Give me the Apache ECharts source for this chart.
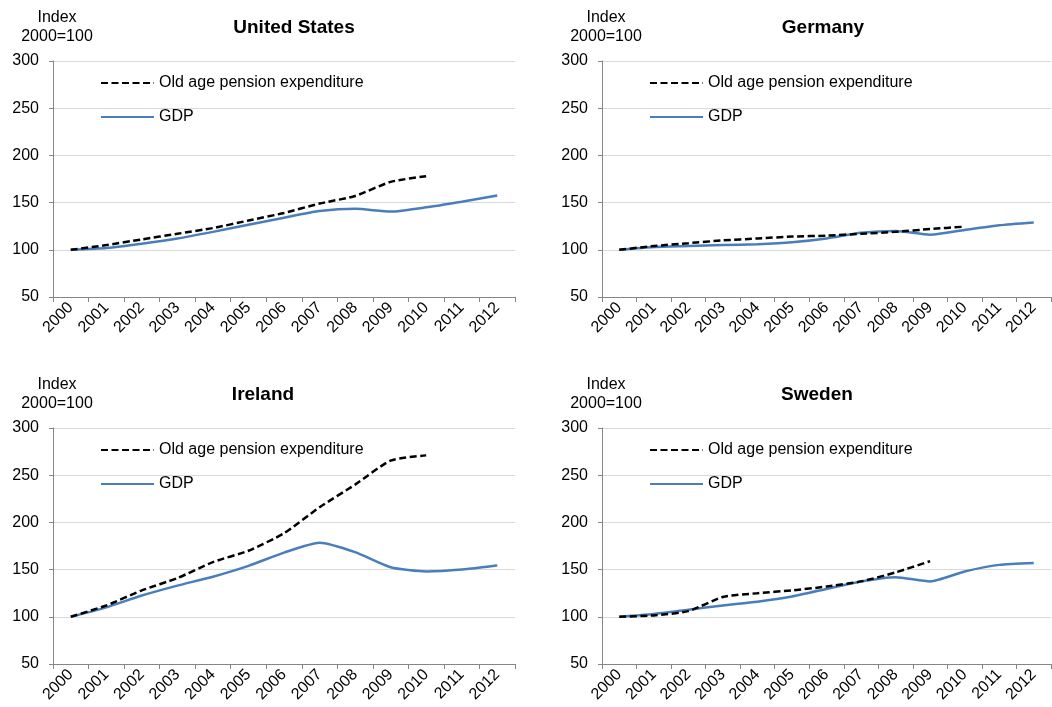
<!DOCTYPE html>
<html>
<head>
<meta charset="utf-8">
<script src="https://cdn.jsdelivr.net/npm/echarts@6/dist/echarts.min.js"></script>
<style>
  html, body { margin: 0; padding: 0; background: #fff; }
  #chart { width: 1052px; height: 707px; }
</style>
</head>
<body>
<div id="chart"></div>
<script>
var years = ['2000', '2001', '2002', '2003', '2004', '2005', '2006', '2007', '2008', '2009', '2010', '2011', '2012'];

// index values, 2000 = 100
var usPension = [100, 105, 111, 117, 123, 131, 139, 149, 157, 172, 178];
var usGdp = [100, 102, 106.5, 112, 119, 126.5, 134, 141, 143.5, 140.5, 145, 151, 157.5];

var dePension = [100, 104, 107, 110, 112, 114, 115, 117, 119, 122, 124.5];
var deGdp = [100, 103, 104, 105, 106, 108, 112, 118, 120, 116, 121, 126, 129];

var iePension = [100, 112, 128, 141, 158, 170, 188.5, 216, 240, 265.5, 271];
var ieGdp = [100, 110, 122.5, 133, 142.5, 154, 168, 178.5, 168.5, 152.5, 148, 150, 154.5];

var sePension = [100, 101.5, 106, 121, 125, 128, 132, 137.5, 147, 159];
var seGdp = [100, 103, 107.5, 112, 116, 121.5, 129.5, 137.5, 142, 137.5, 148, 155, 157];

var yTicks = { min: 50, max: 300, interval: 50 };

var FONT = 'Liberation Sans, Arial, sans-serif';
var PENSION = 'Old age pension expenditure';
var GDP = 'GDP';

// panel boxes: [left, top, width, height], tx = title centre
var panels = [
  { name: 'United States', box: [53, 61, 462, 236], tx: 294, pension: usPension, gdp: usGdp },
  { name: 'Germany', box: [602, 61, 449, 236], tx: 823, pension: dePension, gdp: deGdp },
  { name: 'Ireland', box: [53, 428, 462, 236], tx: 263, pension: iePension, gdp: ieGdp },
  { name: 'Sweden', box: [602, 428, 449, 236], tx: 817, pension: sePension, gdp: seGdp }
];

var grids = [], xAxes = [], yAxes = [], series = [], legends = [], graphics = [];

panels.forEach(function (p, i) {
  var b = p.box;
  grids.push({ left: b[0], top: b[1], width: b[2], height: b[3] });

  xAxes.push({
    type: 'category',
    gridIndex: i,
    data: years,
    boundaryGap: true,
    axisLine: { lineStyle: { color: '#868686', width: 1 } },
    axisTick: { show: true, length: 5, lineStyle: { color: '#868686' } },
    axisLabel: { interval: 0, rotate: 45, color: '#000', fontSize: 16, fontFamily: FONT, margin: 8 },
    splitLine: { show: false }
  });

  yAxes.push({
    type: 'value',
    gridIndex: i,
    min: yTicks.min,
    max: yTicks.max,
    interval: yTicks.interval,
    axisLine: { show: true, lineStyle: { color: '#868686', width: 1 } },
    axisTick: { show: true, length: 4, lineStyle: { color: '#868686' } },
    axisLabel: { color: '#000', fontSize: 16, fontFamily: FONT, margin: 14 },
    splitLine: { show: true, lineStyle: { color: '#d9d9d9', width: 1 } }
  });

  series.push({
    name: PENSION,
    type: 'line',
    xAxisIndex: i,
    yAxisIndex: i,
    data: p.pension,
    symbol: 'none',
    smooth: 0.2,
    lineStyle: { color: '#000', width: 2.5, type: [7, 3.5] },
    itemStyle: { color: '#000' },
    z: 3
  });
  series.push({
    name: GDP,
    type: 'line',
    xAxisIndex: i,
    yAxisIndex: i,
    data: p.gdp,
    symbol: 'none',
    smooth: 0.2,
    lineStyle: { color: '#4a7ebb', width: 2.5 },
    itemStyle: { color: '#4a7ebb' },
    z: 2
  });

  legends.push({
    orient: 'vertical',
    left: b[0] + 42,
    top: b[1] + 9,
    itemWidth: 53,
    itemHeight: 14,
    itemGap: 18,
    selectedMode: false,
    itemStyle: { opacity: 0 },
    data: [PENSION, GDP],
    textStyle: { color: '#000', fontSize: 16, fontFamily: FONT }
  });

  graphics.push({
    type: 'text',
    x: p.tx,
    y: b[1] - 33,
    style: { text: p.name, font: 'bold 19px ' + FONT, fill: '#000', textAlign: 'center', align: 'center', textVerticalAlign: 'middle', verticalAlign: 'middle' }
  });
  graphics.push({
    type: 'text',
    x: b[0] + 4,
    y: b[1] - 43,
    style: { text: 'Index', font: '16px ' + FONT, fill: '#000', textAlign: 'center', align: 'center', textVerticalAlign: 'middle', verticalAlign: 'middle' }
  });
  graphics.push({
    type: 'text',
    x: b[0] + 4,
    y: b[1] - 24,
    style: { text: '2000=100', font: '16px ' + FONT, fill: '#000', textAlign: 'center', align: 'center', textVerticalAlign: 'middle', verticalAlign: 'middle' }
  });
});

var myChart = echarts.init(document.getElementById('chart'));
myChart.setOption({
  animation: false,
  backgroundColor: '#fff',
  grid: grids,
  xAxis: xAxes,
  yAxis: yAxes,
  legend: legends,
  series: series,
  graphic: graphics
});
</script>
</body>
</html>
